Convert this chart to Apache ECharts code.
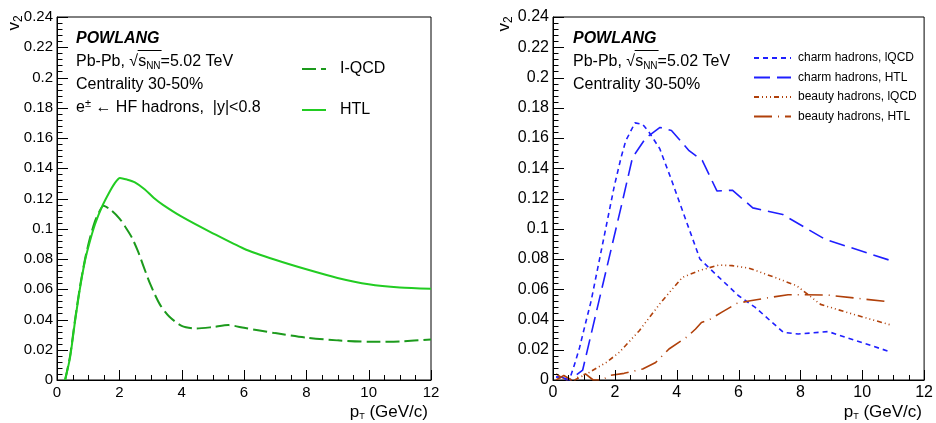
<!DOCTYPE html>
<html>
<head>
<meta charset="utf-8">
<script src="https://cdn.jsdelivr.net/npm/echarts@6/dist/echarts.min.js"></script>
<style>
  html, body { margin: 0; padding: 0; background: #fff; }
  #chart { width: 936px; height: 423px; }
</style>
</head>
<body>
<div id="chart"></div>
<script>
// Tick labels shared by both panels
const xTickLabels = ['0', '2', '4', '6', '8', '10', '12'];
const yTickLabels = ['0', '0.02', '0.04', '0.06', '0.08', '0.1', '0.12', '0.14', '0.16', '0.18', '0.2', '0.22', '0.24'];

// Left panel: e± from heavy-flavour hadron decays
const ptEleIQCD = [0.26, 0.42, 0.58, 0.74, 0.9, 1.06, 1.22, 1.35, 1.49, 1.75, 2.02, 2.2, 2.4, 2.6, 2.77, 3.0, 3.3, 3.6, 4.0, 4.47, 5.0, 5.5, 6.0, 7, 8, 9, 10, 11, 12];
const v2EleIQCD = [0, 0.016, 0.040, 0.062, 0.080, 0.094, 0.105, 0.111, 0.1152, 0.112, 0.1064, 0.101, 0.0943, 0.085, 0.0755, 0.063, 0.050, 0.042, 0.0358, 0.034, 0.035, 0.0363, 0.0345, 0.031, 0.028, 0.0262, 0.0253, 0.0255, 0.0268];
const ptEleHTL = [0.26, 0.42, 0.58, 0.74, 0.9, 1.06, 1.22, 1.43, 1.65, 1.85, 2.02, 2.25, 2.5, 2.82, 3.1, 3.4, 4, 5, 6, 7, 8, 9, 10, 11, 12];
const v2EleHTL = [0, 0.015, 0.039, 0.061, 0.079, 0.092, 0.103, 0.114, 0.123, 0.130, 0.1336, 0.1325, 0.1307, 0.126, 0.1205, 0.1158, 0.108, 0.097, 0.0868, 0.0795, 0.0732, 0.0675, 0.0633, 0.0612, 0.0604];

// Right panel: charm and beauty hadrons
const ptCharmIQCD = [0.1, 0.2, 0.45, 0.54, 0.70, 0.86, 1.07, 1.23, 1.98, 2.2, 2.35, 2.65, 2.9, 3.1, 3.45, 3.8, 4.75, 5.36, 6.0, 6.54, 7.45, 7.93, 8.9, 10.85];
const v2CharmIQCD = [0.002, 0.002, 0, 0.0007, 0.0105, 0.0215, 0.039, 0.052, 0.128, 0.147, 0.158, 0.170, 0.169, 0.164, 0.153, 0.134, 0.080, 0.068, 0.0557, 0.048, 0.0315, 0.0304, 0.032, 0.019];
const ptCharmHTL = [0.1, 0.25, 0.55, 0.96, 2.25, 2.57, 3.0, 3.46, 3.83, 4.4, 4.83, 5.3, 5.8, 6.46, 7.43, 8.8, 10.9];
const v2CharmHTL = [0.002, 0.002, 0, 0.0066, 0.1186, 0.147, 0.160, 0.167, 0.165, 0.1516, 0.145, 0.125, 0.1255, 0.1138, 0.1094, 0.093, 0.0791];
const ptBeautyIQCD = [0.1, 0.4, 0.7, 1.17, 1.72, 2.14, 2.79, 3.49, 4.18, 4.72, 5.36, 5.79, 6.33, 7.18, 7.88, 8.65, 9.7, 10.9];
const v2BeautyIQCD = [0.004, 0, 0, 0.005, 0.0116, 0.0182, 0.0326, 0.0513, 0.0678, 0.0723, 0.076, 0.0756, 0.074, 0.0678, 0.0623, 0.050, 0.0435, 0.0365];
const ptBeautyHTL = [0.1, 0.35, 0.6, 1.05, 1.3, 1.6, 1.82, 2.3, 2.9, 3.32, 3.75, 4.34, 4.61, 4.8, 5.04, 5.49, 5.95, 6.38, 7.02, 7.6, 8.87, 10.9];
const v2BeautyHTL = [0, 0.003, 0, 0.004, 0, 0, 0.003, 0.0044, 0.0073, 0.0116, 0.0205, 0.0286, 0.0337, 0.038, 0.0397, 0.0452, 0.0507, 0.0524, 0.0546, 0.0564, 0.0562, 0.0516];

const FONT = 'Liberation Sans, Helvetica, Arial, sans-serif';
const pairs = (xs, ys) => xs.map((x, i) => [x, ys[i]]);

// Axis tick marks (ROOT style, pointing into the frame): [value, kind]
// kind 0 = x major, 1 = x minor, 2 = y major, 3 = y minor
const tickMarks = [];
for (let k = 0; k <= 24; k++) tickMarks.push([k * 0.5, k % 4 === 0 ? 0 : 1]);
for (let k = 0; k <= 60; k++) tickMarks.push([k * 0.004, k % 5 === 0 ? 2 : 3]);
const tickLength = [10, 5, 11, 5.5];

// text width helper for placing the radical's overline
const measureCtx = document.createElement('canvas').getContext('2d');
function textWidth(str, size) {
  measureCtx.font = size + 'px ' + FONT;
  return measureCtx.measureText(str).width;
}

function xAxisFor(grid, fontSize) {
  return {
    type: 'value', gridIndex: grid, min: 0, max: 12, interval: 2,
    axisLine: { show: true, onZero: false, lineStyle: { color: '#000', width: 1 } },
    axisTick: { show: false },
    minorTick: { show: false },
    splitLine: { show: false },
    axisLabel: { color: '#000', fontSize: fontSize, fontFamily: FONT, margin: 5,
      formatter: (v, i) => xTickLabels[i] }
  };
}
function yAxisFor(grid, fontSize) {
  return {
    type: 'value', gridIndex: grid, min: 0, max: 0.24, interval: 0.02,
    axisLine: { show: true, onZero: false, lineStyle: { color: '#000', width: 1 } },
    axisTick: { show: false },
    minorTick: { show: false },
    splitLine: { show: false },
    axisLabel: { color: '#000', fontSize: fontSize, fontFamily: FONT, margin: 4,
      formatter: (v, i) => yTickLabels[i] }
  };
}
function curve(name, grid, xs, ys, color, dash, width, smooth) {
  return {
    name: name, type: 'line', xAxisIndex: grid, yAxisIndex: grid,
    data: pairs(xs, ys), symbol: 'none', showSymbol: false,
    smooth: smooth || false,
    lineStyle: { color: color, width: width, type: dash },
    itemStyle: { color: color },
    emphasis: { disabled: true }, animation: false
  };
}
// Tick marks placed through the panel's own axes
function ticksFor(grid) {
  return {
    type: 'custom', xAxisIndex: grid, yAxisIndex: grid, data: tickMarks,
    silent: true, animation: false, clip: false, z: 4,
    renderItem: function (params, api) {
      const v = api.value(0), kind = api.value(1), len = tickLength[kind];
      let x1, y1, x2, y2;
      if (kind < 2) {
        const p = api.coord([v, 0]);
        x1 = x2 = Math.round(p[0]) + 0.5; y1 = p[1]; y2 = p[1] - len;
      } else {
        const p = api.coord([0, v]);
        y1 = y2 = Math.round(p[1]) + 0.5; x1 = p[0]; x2 = p[0] + len;
      }
      return { type: 'line', shape: { x1: x1, y1: y1, x2: x2, y2: y2 }, style: { stroke: '#000', lineWidth: 1 } };
    }
  };
}

// Header block of each panel (experiment label, system, centrality)
function headerText(x0, withSelection) {
  const base = { fontSize: 16, fontFamily: FONT, fill: '#000' };
  const barStart = x0 + textWidth('Pb-Pb, √', 16);
  const barEnd = barStart + textWidth('s', 16) + textWidth('NN', 10) + 1;
  const items = [
    { type: 'text', x: x0, y: 39, style: Object.assign({}, base, { text: 'POWLANG', fontWeight: 'bold', fontStyle: 'italic', verticalAlign: 'middle' }) },
    { type: 'text', x: x0, y: 62, style: {
        text: '{a|Pb-Pb, }{a|√}{a|s}{n|NN}{a|=5.02 TeV}', verticalAlign: 'middle', fill: '#000',
        rich: { a: { fontSize: 16, fontFamily: FONT, color: '#000' },
                n: { fontSize: 10, fontFamily: FONT, color: '#000', padding: [9, 0, 0, 0] } } } },
    { type: 'line', shape: { x1: barStart - 0.5, y1: 50.5, x2: barEnd, y2: 50.5 }, style: { stroke: '#000', lineWidth: 1 } },
    { type: 'text', x: x0, y: 85, style: Object.assign({}, base, { text: 'Centrality 30-50%', verticalAlign: 'middle' }) }
  ];
  if (withSelection) {
    items.push({ type: 'text', x: x0, y: 108, style: {
      text: '{a|e}{p|±}{a| ← HF hadrons,  |y|<0.8}', verticalAlign: 'middle', fill: '#000',
      rich: { a: { fontSize: 16, fontFamily: FONT, color: '#000' },
              p: { fontSize: 11, fontFamily: FONT, color: '#000', padding: [0, 0, 9, 0] } } } });
  }
  return items;
}
function v2Title(x, y) {
  return { type: 'text', x: x, y: y, rotation: Math.PI / 2, style: {
    text: '{v|v}{s|2}', align: 'center', verticalAlign: 'middle',
    rich: { v: { fontSize: 17, fontFamily: FONT, color: '#000' },
            s: { fontSize: 12, fontFamily: FONT, color: '#000', padding: [9, 0, 0, 0] } } } };
}
function ptTitle(xRight, y) {
  return { type: 'text', x: xRight, y: y, style: {
    text: '{p|p}{t|T}{p| (GeV/c)}', align: 'right', verticalAlign: 'middle',
    rich: { p: { fontSize: 17, fontFamily: FONT, color: '#000' },
            t: { fontSize: 9, fontFamily: FONT, color: '#000', padding: [10, 0, 0, 0] } } } };
}

const legendCommon = {
  orient: 'vertical', selectedMode: false, padding: 0,
  itemStyle: { opacity: 0, borderWidth: 0 }
};

const chart = echarts.init(document.getElementById('chart'), null, { renderer: 'canvas' });
chart.setOption({
  backgroundColor: '#fff',
  animation: false,
  grid: [
    { left: 57, top: 17, width: 374, height: 363, show: true, borderColor: '#000', borderWidth: 1, backgroundColor: 'transparent' },
    { left: 553, top: 17, width: 374, height: 363, show: true, borderColor: '#000', borderWidth: 1, backgroundColor: 'transparent' }
  ],
  xAxis: [xAxisFor(0, 15), xAxisFor(1, 16)],
  yAxis: [yAxisFor(0, 15), yAxisFor(1, 16)],
  legend: [
    Object.assign({}, legendCommon, {
      data: ['I-QCD', 'HTL'], left: 301, top: 61, itemWidth: 24, itemHeight: 14, itemGap: 25,
      textStyle: { fontSize: 16, fontFamily: FONT, color: '#000', padding: [0, 0, 0, 9] } }),
    Object.assign({}, legendCommon, {
      data: ['charm hadrons, lQCD', 'charm hadrons, HTL', 'beauty hadrons, lQCD', 'beauty hadrons, HTL'],
      left: 753, top: 52, itemWidth: 37, itemHeight: 12, itemGap: 7.5,
      textStyle: { fontSize: 12, fontFamily: FONT, color: '#000', padding: [0, 0, 0, 2] } })
  ],
  series: [
    curve('I-QCD', 0, ptEleIQCD, v2EleIQCD, '#1c9a1c', [14, 5], 2, 0.25),
    curve('HTL', 0, ptEleHTL, v2EleHTL, '#22cc22', 'solid', 2, 0.25),
    curve('charm hadrons, lQCD', 1, ptCharmIQCD, v2CharmIQCD, '#1f1fff', [5, 4], 1.6),
    curve('charm hadrons, HTL', 1, ptCharmHTL, v2CharmHTL, '#1f1fff', [16, 7], 1.6),
    curve('beauty hadrons, lQCD', 1, ptBeautyIQCD, v2BeautyIQCD, '#b0400a', [5, 3, 1, 3, 1, 3, 1, 3], 1.6),
    curve('beauty hadrons, HTL', 1, ptBeautyHTL, v2BeautyHTL, '#b0400a', [18, 6, 1, 6], 1.6),
    ticksFor(0),
    ticksFor(1)
  ],
  graphic: [].concat(
    headerText(76, true),
    headerText(573, false),
    [v2Title(14, 23), v2Title(504, 24), ptTitle(428, 412), ptTitle(922, 412)]
  )
});
</script>
</body>
</html>
